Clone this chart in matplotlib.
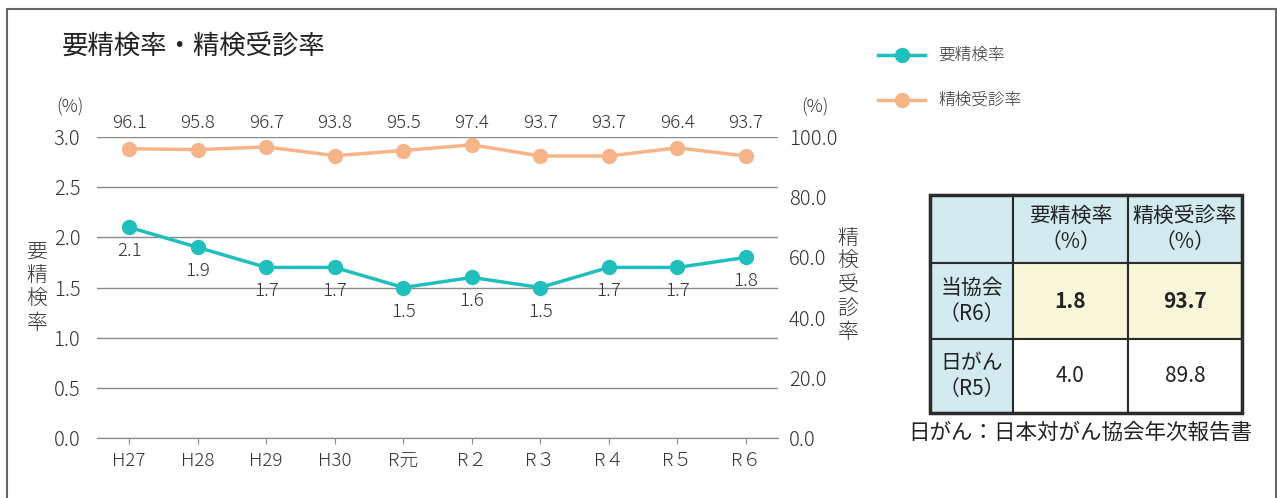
"""要精検率・精検受診率: two-axis line chart with a small comparison table."""
import matplotlib
matplotlib.use("Agg")
import matplotlib.pyplot as plt
from matplotlib.patches import Rectangle

plt.rcParams["font.family"] = ["Noto Sans CJK JP", "DejaVu Sans"]
plt.rcParams["font.weight"] = "light"

years = ["H27", "H28", "H29", "H30", "R元", "R２", "R３", "R４", "R５", "R６"]
youseiken = [2.1, 1.9, 1.7, 1.7, 1.5, 1.6, 1.5, 1.7, 1.7, 1.8]
jushin = [96.1, 95.8, 96.7, 93.8, 95.5, 97.4, 93.7, 93.7, 96.4, 93.7]

table_cols = ["要精検率\n（%）", "精検受診率\n（%）"]
table_rows = ["当協会\n（R6）", "日がん\n（R5）"]
table_vals = [["1.8", "93.7"], ["4.0", "89.8"]]
source_note = "日がん：日本対がん協会年次報告書"

TEAL = "#20bfbd"
ORANGE = "#f7b488"
GRID = "#8a8a8a"
TXT = "#333333"
W, H = 1277, 498

fig = plt.figure(figsize=(W / 100, H / 100), dpi=100)

# outer frame (bottom edge runs off the image)
fig.patches.append(Rectangle((7 / W, -0.05), (1276 - 7) / W, (H - 9) / H + 0.05,
                             transform=fig.transFigure, fill=False,
                             edgecolor="#666666", linewidth=1.5))

ax = fig.add_axes([97 / W, (H - 438) / H, (778 - 97) / W, (438 - 137) / H])
ax2 = ax.twinx()
x = list(range(len(years)))

ax.set_ylim(0, 3.0)
ax.set_yticks([0, 0.5, 1.0, 1.5, 2.0, 2.5, 3.0])
ax.set_yticklabels([f"{v:.1f}" for v in ax.get_yticks()])
ax2.set_ylim(0, 100)
ax2.set_yticks([0, 20, 40, 60, 80, 100])
ax2.set_yticklabels([f"{v:.1f}" for v in ax2.get_yticks()])
ax.set_xlim(-0.47, len(years) - 0.53)
ax.set_xticks(x)
ax.set_xticklabels(years)

ax.grid(axis="y", color=GRID, linewidth=1)
ax.set_axisbelow(True)
for a in (ax, ax2):
    for s in ("top", "left", "right"):
        a.spines[s].set_visible(False)
    a.spines["bottom"].set_color(GRID)
ax.tick_params(axis="y", length=0, pad=12, labelsize=14.5, labelcolor=TXT)
ax2.tick_params(axis="y", length=0, pad=8, labelsize=14.5, labelcolor=TXT)
ax.tick_params(axis="x", length=4, color=GRID, labelsize=13.5, labelcolor=TXT, pad=6)

ax.plot(x, youseiken, color=TEAL, linewidth=2.5, marker="o", markersize=10, zorder=3)
ax2.plot(x, jushin, color=ORANGE, linewidth=2.5, marker="o", markersize=10, zorder=3)

for i, v in enumerate(youseiken):
    ax.annotate(f"{v:.1f}", (i, v), xytext=(0, -24), textcoords="offset pixels",
                ha="center", va="center", fontsize=13.5, color=TXT)
for i, v in enumerate(jushin):
    ax2.annotate(f"{v:.1f}", (i, 100), xytext=(0, 14), textcoords="offset pixels",
                 ha="center", va="center", fontsize=13.5, color=TXT)

fig.text(70 / W, 1 - 107 / H, "(%)", ha="center", va="center", fontsize=13, color=TXT)
fig.text(815 / W, 1 - 107 / H, "(%)", ha="center", va="center", fontsize=13, color=TXT)
fig.text(37 / W, 1 - 287 / H, "\n".join("要精検率"), ha="center", va="center",
         fontsize=15, color=TXT, linespacing=1.1)
fig.text(848 / W, 1 - 285 / H, "\n".join("精検受診率"), ha="center", va="center",
         fontsize=15, color=TXT, linespacing=1.1)

fig.text(62 / W, 1 - 47 / H, "要精検率・精検受診率", ha="left", va="center",
         fontsize=19, color="#222222", fontweight="normal")

# legend
for j, (lab, col) in enumerate([("要精検率", TEAL), ("精検受診率", ORANGE)]):
    yy = 1 - (55 + 45 * j) / H
    fig.add_artist(plt.Line2D([878 / W, 925 / W], [yy, yy], color=col, linewidth=2.5,
                              transform=fig.transFigure))
    fig.add_artist(plt.Line2D([902 / W], [yy], color=col, marker="o", markersize=10,
                              transform=fig.transFigure))
    fig.text(938 / W, yy, lab, ha="left", va="center", fontsize=12, color=TXT)

# comparison table
col_x = [930, 1013, 1128, 1242]
row_y = [195, 263, 339, 413]
BLUE = "#d3ebf0"
YELLOW = "#f7f6d8"
fills = [[BLUE, BLUE, BLUE], [BLUE, YELLOW, YELLOW], [BLUE, "white", "white"]]
cells = [[""] + table_cols] + [[table_rows[r]] + table_vals[r] for r in range(2)]
for r in range(3):
    for c in range(3):
        x0, x1 = col_x[c], col_x[c + 1]
        y0, y1 = row_y[r], row_y[r + 1]
        fig.patches.append(Rectangle((x0 / W, 1 - y1 / H), (x1 - x0) / W, (y1 - y0) / H,
                                     transform=fig.transFigure, facecolor=fills[r][c],
                                     edgecolor="#2b2b2b", linewidth=1.5))
        bold = r == 1 and c > 0
        fig.text((x0 + x1) / 2 / W, 1 - (y0 + y1) / 2 / H, cells[r][c],
                 ha="center", va="center", fontsize=15, color="#222222",
                 fontweight="bold" if bold else "normal", linespacing=1.25)
fig.patches.append(Rectangle((col_x[0] / W, 1 - row_y[-1] / H),
                             (col_x[-1] - col_x[0]) / W, (row_y[-1] - row_y[0]) / H,
                             transform=fig.transFigure, fill=False,
                             edgecolor="#2b2b2b", linewidth=2.5))
fig.text(1080 / W, 1 - 433 / H, source_note, ha="center", va="center",
         fontsize=15.5, color="#222222", fontweight="normal")

fig.savefig("out.png")
